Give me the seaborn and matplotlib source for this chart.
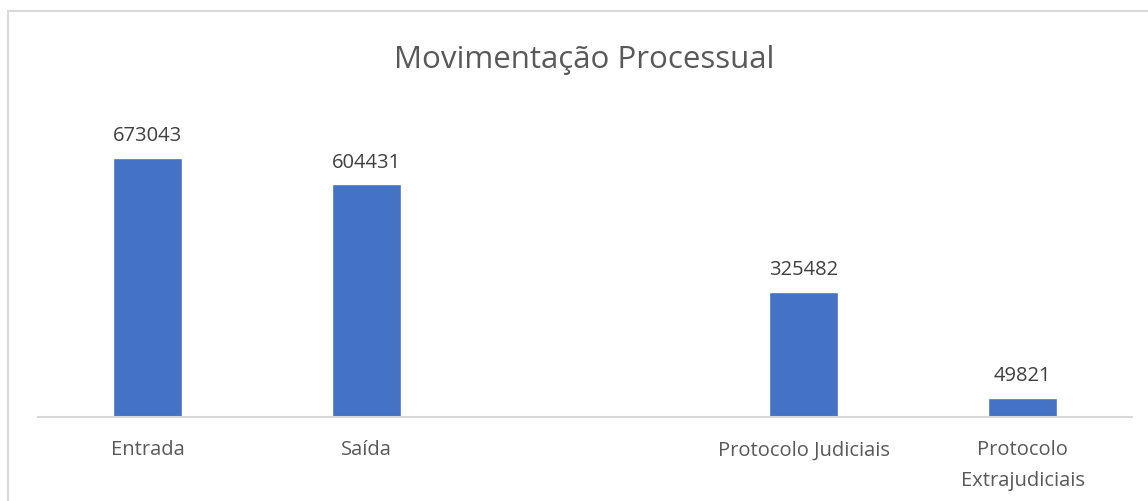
import numpy as np
import pandas as pd
import matplotlib
matplotlib.use("Agg")
import matplotlib.pyplot as plt
import seaborn as sns
from matplotlib.patches import Rectangle

# Dados do gráfico
categorias = ["Entrada", "Saída", " ", "Protocolo Judiciais", "Protocolo\nExtrajudiciais"]
rotulos = ["Entrada", "Saída", "", "Protocolo Judiciais", "Protocolo\nExtrajudiciais"]
cat_dados = ["Entrada", "Saída", "Protocolo Judiciais", "Protocolo\nExtrajudiciais"]
valores = [673043, 604431, 325482, 49821]
titulo = "Movimentação Processual"

sns.set_style("white")
plt.rcParams["font.family"] = ["Open Sans", "DejaVu Sans"]

df = pd.DataFrame({"categoria": cat_dados, "valor": valores})

fig = plt.figure(figsize=(11.48, 5.02), dpi=100)
ax = fig.add_axes([38 / 1148, 84 / 502, 1094 / 1148, 318 / 502])

sns.barplot(data=df, x="categoria", y="valor", order=categorias,
            color="#4472C4", saturation=1, width=0.315, ax=ax)

for cont in ax.containers:
    ax.bar_label(cont, labels=[f"{v:.0f}" for v in cont.datavalues],
                 padding=9, fontsize=14.5, color="#404040")

ax.set_xlim(-0.5, 4.5)
ax.set_ylim(0, 826000)
ax.set_xlabel("")
ax.set_ylabel("")
ax.set_yticks([])
ax.set_xticks(range(len(categorias)))
ax.set_xticklabels(rotulos, fontsize=14.5, color="#595959", linespacing=1.75)
ax.tick_params(axis="x", length=0, pad=16)
for s in ["top", "right", "left"]:
    ax.spines[s].set_visible(False)
ax.spines["bottom"].set_color("#d9d9d9")
ax.spines["bottom"].set_linewidth(1.5)

fig.text(584 / 1148, 1 - 60 / 502, titulo, ha="center", va="center",
         fontsize=22.5, color="#595959")

# moldura do gráfico
fig.patches.append(Rectangle((8 / 1148, -0.1), 1.2, 1 - 12 / 502 + 0.1,
                             transform=fig.transFigure, fill=False,
                             edgecolor="#d9d9d9", linewidth=1.5))

fig.savefig("out.png", dpi=100)
